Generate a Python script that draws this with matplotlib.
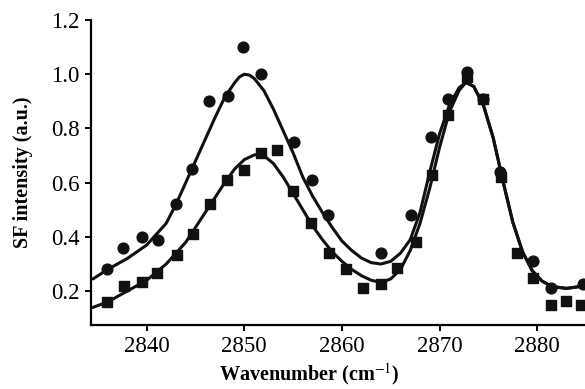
import matplotlib
matplotlib.use("Agg")
import matplotlib.pyplot as plt

# measured points (circles = upper series, squares = lower series)
circ_x = [2835.9, 2837.6, 2839.5, 2841.2, 2843.0, 2844.6, 2846.4, 2848.3, 2849.9,
          2851.7, 2855.1, 2856.9, 2858.6, 2864.0, 2867.1, 2869.1, 2870.9, 2872.8,
          2874.5, 2876.2, 2879.6, 2881.4, 2884.7]
circ_y = [0.28, 0.36, 0.40, 0.39, 0.52, 0.65, 0.90, 0.92, 1.10,
          1.00, 0.75, 0.61, 0.48, 0.34, 0.48, 0.77, 0.91, 1.01,
          0.91, 0.64, 0.31, 0.21, 0.225]

sq_x = [2835.9, 2837.7, 2839.5, 2841.1, 2843.1, 2844.7, 2846.5, 2848.2, 2850.0,
        2851.7, 2853.4, 2855.0, 2856.8, 2858.7, 2860.4, 2862.2, 2864.0, 2865.6,
        2867.6, 2869.2, 2870.9, 2872.8, 2874.5, 2876.3, 2877.9, 2879.6, 2881.4,
        2883.0, 2884.5]
sq_y = [0.16, 0.22, 0.235, 0.265, 0.335, 0.41, 0.52, 0.61, 0.645,
        0.71, 0.72, 0.57, 0.45, 0.34, 0.28, 0.21, 0.225, 0.285,
        0.38, 0.63, 0.85, 0.99, 0.91, 0.62, 0.34, 0.25, 0.15,
        0.165, 0.15]

# fitted curves
fit1_x = [2834.5, 2836, 2838, 2840, 2842, 2843, 2844, 2845, 2846, 2847, 2848, 2849,
          2849.5, 2850, 2850.5, 2851, 2852, 2853, 2854, 2855, 2856, 2857, 2858, 2859,
          2860, 2861, 2862, 2863, 2864, 2865, 2866, 2867, 2868, 2869, 2870, 2871,
          2872, 2872.7, 2873.5, 2874.5, 2875.5, 2876.5, 2877.5, 2878.5, 2879.5,
          2880.5, 2881.5, 2883, 2885]
fit1_y = [0.245, 0.28, 0.32, 0.37, 0.45, 0.52, 0.60, 0.68, 0.76, 0.84, 0.915, 0.968,
          0.99, 1.0, 0.997, 0.985, 0.94, 0.87, 0.79, 0.71, 0.62, 0.55, 0.49, 0.435,
          0.385, 0.35, 0.322, 0.305, 0.30, 0.31, 0.34, 0.39, 0.49, 0.64, 0.78, 0.885,
          0.95, 0.97, 0.955, 0.885, 0.765, 0.605, 0.455, 0.345, 0.275,
          0.237, 0.217, 0.21, 0.22]

fit2_x = [2834.5, 2836, 2838, 2840, 2842, 2844, 2846, 2848, 2849, 2850, 2851, 2851.5,
          2852, 2853, 2854, 2855, 2856, 2857, 2858, 2859, 2860, 2861, 2862, 2863,
          2864, 2865, 2866, 2867, 2868, 2869, 2870, 2871, 2872, 2872.7,
          2873.5, 2874.5, 2875.5, 2876.5, 2877.5, 2878.5, 2879.5, 2880.5, 2881.5,
          2883, 2885]
fit2_y = [0.14, 0.16, 0.20, 0.24, 0.30, 0.38, 0.49, 0.60, 0.65, 0.685, 0.702, 0.705,
          0.70, 0.67, 0.62, 0.56, 0.50, 0.44, 0.39, 0.345, 0.31, 0.28, 0.257, 0.24,
          0.232, 0.245, 0.28, 0.35, 0.45, 0.58, 0.73, 0.86, 0.94, 0.97,
          0.955, 0.885, 0.765, 0.605, 0.455, 0.345, 0.275, 0.237, 0.217,
          0.21, 0.22]

xticks = [2840, 2850, 2860, 2870, 2880]
yticks = [0.2, 0.4, 0.6, 0.8, 1.0, 1.2]

plt.rcParams['font.family'] = ['Liberation Serif', 'DejaVu Serif']
plt.rcParams['mathtext.fontset'] = 'stix'

fig = plt.figure(figsize=(5.85, 3.89), dpi=100)
ax = fig.add_axes([0.1556, 0.1645, 0.8444, 0.7841])

ax.plot(fit1_x, fit1_y, color='#111111', lw=2.2, solid_capstyle='round')
ax.plot(fit2_x, fit2_y, color='#111111', lw=2.2, solid_capstyle='round')
ax.scatter(circ_x, circ_y, s=60, marker='o', color='#111111', zorder=3)
ax.scatter(sq_x, sq_y, s=45, marker='s', color='#111111', zorder=3)

ax.set_xlim(2834.3, 2884.9)
ax.set_ylim(0.075, 1.2)
ax.set_xticks(xticks)
ax.set_yticks(yticks)
ax.set_yticklabels([f"{v:.1f}" for v in yticks])

for s in ['top', 'right']:
    ax.spines[s].set_visible(False)
for s in ['left', 'bottom']:
    ax.spines[s].set_linewidth(1.6)
ax.tick_params(direction='out', length=4, width=1.4, labelsize=16.5, pad=4)

ax.set_xlabel("Wavenumber (cm$^{-1}$)", fontsize=14.5, fontweight='bold')
ax.xaxis.set_label_coords(0.441, -0.118)
ax.set_ylabel("SF intensity (a.u.)", fontsize=14.5, fontweight='bold')
ax.yaxis.set_label_coords(-0.118, 0.5)

fig.savefig("out.png", dpi=100)
